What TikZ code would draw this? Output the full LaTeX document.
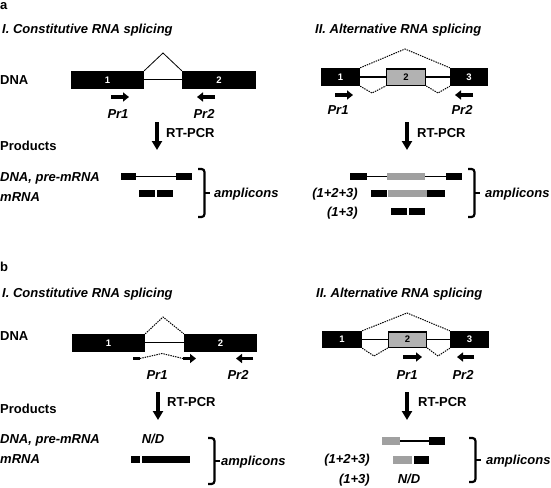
\documentclass[tikz,border=0pt]{standalone}
\usepackage{fontspec}
\setmainfont{Liberation Sans}
\usetikzlibrary{arrows.meta}
\definecolor{exgray}{RGB}{178,178,178}
\definecolor{prgray}{RGB}{160,160,160}
\begin{document}
\begin{tikzpicture}[x=1pt,y=-1pt,
  exon/.style={fill=black, draw=none, inner sep=0pt, text=white, font=\bfseries\fontsize{9.5}{10}\selectfont},
  altexon/.style={fill=exgray, draw=black, line width=1.5pt, inner sep=0pt, text=black, font=\bfseries\fontsize{9.5}{10}\selectfont},
  lab/.style={font=\bfseries\fontsize{13}{15}\selectfont, inner sep=0pt, anchor=base west},
  ilab/.style={font=\bfseries\itshape\fontsize{13}{15}\selectfont, inner sep=0pt, anchor=base west},
  plab/.style={font=\bfseries\itshape\fontsize{13}{15}\selectfont, inner sep=0pt, anchor=base},
  primer/.style={line width=3.6pt, -{Triangle[length=6pt,width=9pt]}},
  rt/.style={line width=3.2pt, -{Triangle[length=9pt,width=10pt]}},
  intron/.style={line width=1.4pt},
  dintron/.style={draw=black, line width=0.6pt, double=white, double distance=1pt},
  splice/.style={line width=0.8pt},
  dots/.style={line width=1pt, dash pattern=on 1.4pt off 1pt},
  brl/.style={line width=2.2pt, rounded corners=3pt},
  tick/.style={line width=2pt},
  pbox/.style={fill=black, draw=none, inner sep=0pt, minimum height=7.5pt},
  gbox/.style={fill=prgray, draw=none, inner sep=0pt, minimum height=7.5pt},
]
\useasboundingbox (0,0) rectangle (551,487);

% ================= panel a =================
\node[lab] (la) at (0,9.5) {a};
\node[ilab] (taI) at (2,34) {I. Constitutive RNA splicing};
\node[ilab] (taII) at (315,34) {II. Alternative RNA splicing};
\node[lab] (dnaA) at (0,84.7) {DNA};

% a-I gene
\node[exon, minimum width=73pt, minimum height=18pt] (aIe1) at (107.5,80) {1};
\node[exon, minimum width=74pt, minimum height=18pt] (aIe2) at (219,80) {2};
\draw[dintron] (aIe1.east) -- (aIe2.west);
\coordinate (aIpk) at (163,53);
\draw[splice] (aIe1.north east) -- (aIpk) -- (aIe2.north west);
\coordinate (aIp1s) at (111,97); \coordinate (aIp1e) at (129,97);
\coordinate (aIp2s) at (215,97); \coordinate (aIp2e) at (197,97);
\draw[primer] (aIp1s) -- (aIp1e);
\draw[primer] (aIp2s) -- (aIp2e);
\node[plab] (aIpr1) at (118,118) {Pr1};
\node[plab] (aIpr2) at (204,118) {Pr2};

% a-II gene
\node[exon, minimum width=39pt, minimum height=18pt] (aIIe1) at (340.5,77) {1};
\node[altexon, minimum width=39pt, minimum height=16.5pt] (aIIe2) at (406,77) {2};
\node[exon, minimum width=38pt, minimum height=18pt] (aIIe3) at (469,77) {3};
\draw[intron] (aIIe1.east) -- (aIIe2.west);
\draw[intron] (aIIe2.east) -- (aIIe3.west);
\coordinate (aIIpk) at (405,49);
\coordinate (aIIv1) at (372,93);
\coordinate (aIIv2) at (438,93);
\draw[dots] (aIIe1.north east) -- (aIIpk) -- (aIIe3.north west);
\draw[dots] (aIIe1.south east) -- (aIIv1) -- (aIIe2.south west);
\draw[dots] (aIIe2.south east) -- (aIIv2) -- (aIIe3.south west);
\coordinate (aIIp1s) at (335,95); \coordinate (aIIp1e) at (353,95);
\coordinate (aIIp2s) at (473,95); \coordinate (aIIp2e) at (455,95);
\draw[primer] (aIIp1s) -- (aIIp1e);
\draw[primer] (aIIp2s) -- (aIIp2e);
\node[plab] (aIIpr1) at (338,114) {Pr1};
\node[plab] (aIIpr2) at (462,114) {Pr2};

% RT-PCR a
\coordinate (aIrt1) at (157,122); \coordinate (aIrt2) at (157,150);
\draw[rt] (aIrt1) -- (aIrt2);
\node[lab] (aIrtl) at (166,137.7) {RT-PCR};
\coordinate (aIIrt1) at (407,122); \coordinate (aIIrt2) at (407,150);
\draw[rt] (aIIrt1) -- (aIIrt2);
\node[lab] (aIIrtl) at (417,137.7) {RT-PCR};

\node[lab] (prodA) at (0,150.7) {Products};
\node[ilab] (dnapreA) at (0,181.7) {DNA, pre-mRNA};
\node[ilab] (mrnaA) at (0,201.7) {mRNA};

% a-I products
\node[pbox, minimum width=15pt] (aIq1) at (128.5,176.5) {};
\node[pbox, minimum width=16pt] (aIq2) at (184,176.5) {};
\draw[intron] (aIq1.east) -- (aIq2.west);
\node[pbox, minimum width=16pt] (aIm1) at (147,193.5) {};
\node[pbox, minimum width=16pt] (aIm2) at (165,193.5) {};
\coordinate (aIbt) at (198,169); \coordinate (aIbv) at (204.5,217); \coordinate (aIbb) at (198,217);
\coordinate (aIbm) at (210,193);
\draw[brl] (aIbt) -| (aIbv) -- (aIbb);
\draw[tick] (aIbv |- aIbm) -- (aIbm);
\node[ilab] (aIamp) at (214,197.7) {amplicons};

% a-II products
\node[pbox, minimum width=17pt] (aIIq1) at (358.5,176.5) {};
\node[gbox, minimum width=38pt] (aIIq2) at (406,176.5) {};
\node[pbox, minimum width=16pt] (aIIq3) at (454,176.5) {};
\draw[intron] (aIIq1.east) -- (aIIq2.west);
\draw[intron] (aIIq2.east) -- (aIIq3.west);
\node[ilab, anchor=base east] (aIIl123) at (358,197.7) {(1+2+3)};
\node[pbox, minimum width=16pt] (aIIr1) at (379,193.5) {};
\node[gbox, minimum width=39pt] (aIIr2) at (407,193.5) {};
\node[pbox, minimum width=18pt] (aIIr3) at (436,193.5) {};
\node[ilab, anchor=base east] (aIIl13) at (358,216.7) {(1+3)};
\node[pbox, minimum width=16pt] (aIIs1) at (399,211.5) {};
\node[pbox, minimum width=16pt] (aIIs2) at (417,211.5) {};
\coordinate (aIIbt) at (468,169); \coordinate (aIIbv) at (474.5,217); \coordinate (aIIbb) at (468,217);
\coordinate (aIIbm) at (480,193);
\draw[brl] (aIIbt) -| (aIIbv) -- (aIIbb);
\draw[tick] (aIIbv |- aIIbm) -- (aIIbm);
\node[ilab] (aIIamp) at (485,197.7) {amplicons};

% ================= panel b =================
\node[lab] (lb) at (0,271.5) {b};
\node[ilab] (tbI) at (2,297.7) {I. Constitutive RNA splicing};
\node[ilab] (tbII) at (316,297.7) {II. Alternative RNA splicing};
\node[lab] (dnaB) at (0,340.7) {DNA};

% b-I gene
\node[exon, minimum width=73pt, minimum height=18pt] (bIe1) at (108.5,343) {1};
\node[exon, minimum width=73pt, minimum height=18pt] (bIe2) at (220.5,343) {2};
\draw[dintron] (bIe1.east) -- (bIe2.west);
\coordinate (bIpk) at (163,317);
\draw[dots] (bIe1.north east) -- (bIpk) -- (bIe2.north west);
\coordinate (bIp1a) at (133,358.5); \coordinate (bIp1b) at (140,358.5);
\coordinate (bIp1m) at (162,353.5); \coordinate (bIp1c) at (183,358.5);
\coordinate (bIp1e) at (196,358.5);
\draw[line width=3.6pt] (bIp1a) -- (bIp1b);
\draw[dots] (bIp1b) -- (bIp1m) -- (bIp1c);
\draw[primer] (bIp1c) -- (bIp1e);
\coordinate (bIp2s) at (253,358.5); \coordinate (bIp2e) at (236,358.5);
\draw[primer] (bIp2s) -- (bIp2e);
\node[plab] (bIpr1) at (157,379.7) {Pr1};
\node[plab] (bIpr2) at (238,379.7) {Pr2};

% b-II gene
\node[exon, minimum width=40pt, minimum height=17pt] (bIIe1) at (342,339.5) {1};
\node[altexon, minimum width=38pt, minimum height=15.5pt] (bIIe2) at (407.5,339.5) {2};
\node[exon, minimum width=39pt, minimum height=17pt] (bIIe3) at (469.5,339.5) {3};
\draw[intron] (bIIe1.east) -- (bIIe2.west);
\draw[intron] (bIIe2.east) -- (bIIe3.west);
\coordinate (bIIpk) at (407,313);
\coordinate (bIIv1) at (374,356);
\coordinate (bIIv2) at (438,356);
\draw[dots] (bIIe1.north east) -- (bIIpk) -- (bIIe3.north west);
\draw[dots] (bIIe1.south east) -- (bIIv1) -- (bIIe2.south west);
\draw[dots] (bIIe2.south east) -- (bIIv2) -- (bIIe3.south west);
\coordinate (bIIp1s) at (403,357); \coordinate (bIIp1e) at (422,357);
\coordinate (bIIp2s) at (474,357); \coordinate (bIIp2e) at (457,357);
\draw[primer] (bIIp1s) -- (bIIp1e);
\draw[primer] (bIIp2s) -- (bIIp2e);
\node[plab] (bIIpr1) at (407,379.7) {Pr1};
\node[plab] (bIIpr2) at (463,379.7) {Pr2};

% RT-PCR b
\coordinate (bIrt1) at (158,392); \coordinate (bIrt2) at (158,420);
\draw[rt] (bIrt1) -- (bIrt2);
\node[lab] (bIrtl) at (167,406.7) {RT-PCR};
\coordinate (bIIrt1) at (407,392); \coordinate (bIIrt2) at (407,420);
\draw[rt] (bIIrt1) -- (bIIrt2);
\node[lab] (bIIrtl) at (418,406.7) {RT-PCR};

\node[lab] (prodB) at (0,413.7) {Products};
\node[ilab] (dnapreB) at (0,443.7) {DNA, pre-mRNA};
\node[ilab] (mrnaB) at (0,463.7) {mRNA};

% b-I products
\node[plab] (bInd) at (153,443.7) {N/D};
\node[pbox, minimum width=9pt] (bIm1) at (135.5,459.5) {};
\node[pbox, minimum width=48pt] (bIm2) at (166,459.5) {};
\coordinate (bIbt) at (208,438); \coordinate (bIbv) at (214.5,484); \coordinate (bIbb) at (208,484);
\coordinate (bIbm) at (220,461);
\draw[brl] (bIbt) -| (bIbv) -- (bIbb);
\draw[tick] (bIbv |- bIbm) -- (bIbm);
\node[ilab] (bIamp) at (221,465.5) {amplicons};

% b-II products
\node[gbox, minimum width=18pt] (bIIq1) at (391,441) {};
\node[pbox, minimum width=16pt] (bIIq2) at (437,441) {};
\draw[intron] (bIIq1.east) -- (bIIq2.west);
\node[ilab, anchor=base east] (bIIl123) at (370,463.7) {(1+2+3)};
\node[gbox, minimum width=19pt] (bIIr1) at (402.5,460) {};
\node[pbox, minimum width=15pt] (bIIr2) at (421.5,460) {};
\node[ilab, anchor=base east] (bIIl13) at (370,483.7) {(1+3)};
\node[plab] (bIInd) at (409,483.7) {N/D};
\coordinate (bIIbt) at (469,438); \coordinate (bIIbv) at (475.5,482); \coordinate (bIIbb) at (469,482);
\coordinate (bIIbm) at (481,460);
\draw[brl] (bIIbt) -| (bIIbv) -- (bIIbb);
\draw[tick] (bIIbv |- bIIbm) -- (bIIbm);
\node[ilab] (bIIamp) at (486,464.7) {amplicons};
\end{tikzpicture}
\end{document}
